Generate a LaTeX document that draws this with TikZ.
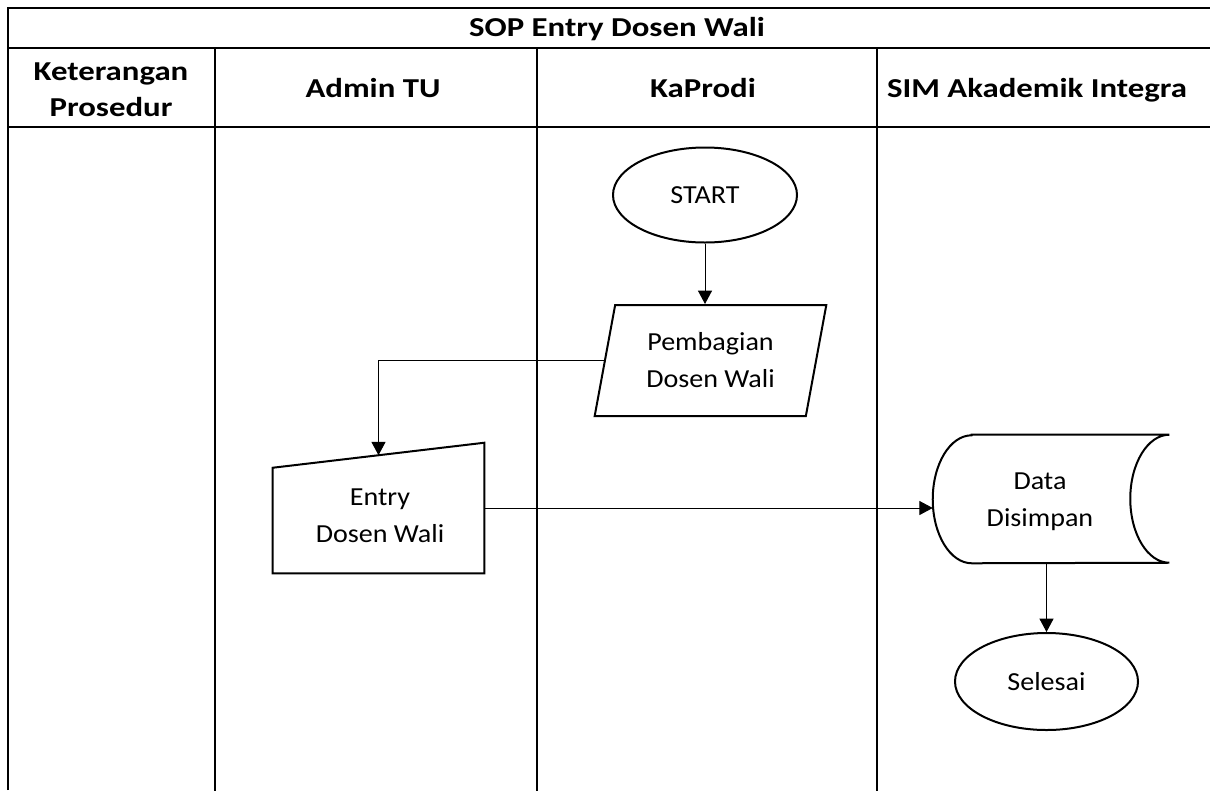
\documentclass[tikz,border=0pt]{standalone}
\usepackage{fontspec}
\setmainfont{Carlito}
\newfontfamily\headfont[FakeStretch=1.2]{Carlito}
\newfontfamily\bodyfont[FakeStretch=1.08]{Carlito}
\usepackage{tikz}
\usetikzlibrary{positioning}
\usetikzlibrary{arrows.meta,shapes.geometric}
\usetikzlibrary{calc}
\tikzstyle{lane}=[draw,line width=1.5pt]
\tikzstyle{head}=[font=\headfont\fontsize{20.5}{27}\selectfont\bfseries,align=center,inner sep=0pt]
\tikzstyle{terminal}=[ellipse,draw,line width=1.5pt,inner sep=0pt,font=\bodyfont\fontsize{19.5}{27.8}\selectfont]
\tikzstyle{io}=[trapezium,trapezium left angle=76,trapezium right angle=104,trapezium stretches=true,draw,line width=1.5pt,align=center,inner sep=0pt,font=\bodyfont\fontsize{19.5}{27.8}\selectfont]
\tikzstyle{box}=[rectangle,draw=none,inner sep=0pt]
\tikzstyle{outline}=[draw,line width=1.5pt,line join=miter]
\tikzstyle{lbl}=[align=center,inner sep=0pt,font=\bodyfont\fontsize{19.5}{27.8}\selectfont]
\tikzstyle{flow} = [draw,line width=0.75pt,-{Triangle[length=10pt,width=10.5pt]}]

\begin{document}
\begin{tikzpicture}[x=0.75pt,y=-0.75pt]

 \def\u{0.75pt}
 \useasboundingbox (0,0) rectangle (1210,790);

 %Table
 \draw[lane] (8,790) -- (8,8) -- (1212,8);
 \foreach \y in {48,127}
        \draw[lane] (8,\y) -- (1212,\y);
 \foreach \x in {215,537,877}
        \draw[lane] (\x,48) -- (\x,792);

 \node[head,anchor=base] (title) at (617,36) {SOP Entry Dosen Wali};
 \node[head] (ket) at (111,90) {Keterangan\\Prosedur};
 \foreach \x/\name/\label in {373/admin/Admin TU, 703/kaprodi/KaProdi, 1037/sim/SIM Akademik Integra}
        \node[head,anchor=base] (\name) at (\x,97) {\label};

 %KaProdi
 \node[terminal,minimum width=184*\u,minimum height=95*\u] (start) at (705,195) {START};
 \node[io,minimum width=232*\u,minimum height=111*\u] (pemb) at (710.5,360.5) {Pembagian\\Dosen Wali};

 %Admin TU
 \node[box,minimum width=211*\u,minimum height=130*\u] (entry) at (378.5,508) {};
 \draw[outline] ($(entry.north west)+(0,25)$) -- (entry.north east) -- (entry.south east) -- (entry.south west) -- cycle;
 \node[lbl] (entrytxt) at (380,516) {Entry\\Dosen Wali};
 \coordinate (entryin) at ($(entry.north west)!0.5!(entry.north east)+(0,12.5)$);

 %SIM
 \node[box,minimum width=236*\u,minimum height=128*\u] (store) at (1051,499) {};
 \draw[outline] ($(store.north west)+(39,0)$) -- (store.north east)
        arc[start angle=90,end angle=270,x radius=39*\u,y radius=64*\u]
        -- ($(store.south west)+(39,0)$)
        arc[start angle=270,end angle=90,x radius=39*\u,y radius=64*\u] -- cycle;
 \node[lbl] (storetxt) at (1040,502) {Data\\Disimpan};
 \node[terminal,minimum width=183*\u,minimum height=97*\u] (sel) at (1046.5,681.5) {Selesai};

 %Arrows
 \draw[flow] (start.south) -- (start.south |- pemb.north);
 \draw[flow] (pemb.west) -| (entryin);
 \draw[flow] (entry.east) -- (entry.east -| store.west);
 \draw[flow] (store.south -| sel.north) -- (sel.north);

\end{tikzpicture}
\end{document}
